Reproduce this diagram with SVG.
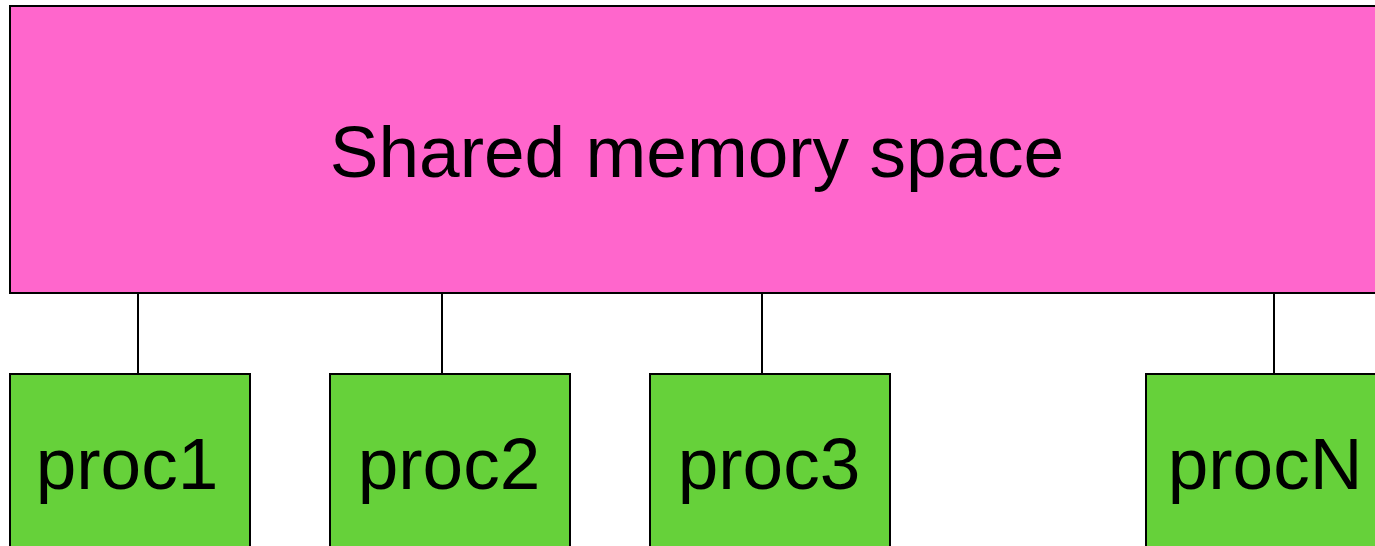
<svg xmlns="http://www.w3.org/2000/svg" width="1375" height="546" viewBox="0 0 1375 546">
  <style>
    .mem { fill: #ff66cc; stroke: #000; stroke-width: 2; }
    .proc { fill: #66d13a; stroke: #000; stroke-width: 2; }
    .link { stroke: #000; stroke-width: 2; fill: none; }
    .label { font-family: "Liberation Sans", Arial, sans-serif; font-size: 73px; fill: #000; text-anchor: middle; }
  </style>
  <rect width="1375" height="546" fill="#fff"/>

  <!-- bus links between memory and processors -->
  <g id="connectors">
    <line class="link" x1="138" y1="293" x2="138" y2="374"/>
    <line class="link" x1="442" y1="293" x2="442" y2="374"/>
    <line class="link" x1="762" y1="293" x2="762" y2="374"/>
    <line class="link" x1="1274" y1="293" x2="1274" y2="374"/>
  </g>

  <g id="memory">
    <rect class="mem" x="10" y="6" width="1376" height="287"/>
    <text class="label" x="697" y="177">Shared memory space</text>
  </g>

  <g id="proc1">
    <rect class="proc" x="10" y="374" width="240" height="240"/>
    <text class="label" x="127" y="489">proc1</text>
  </g>
  <g id="proc2">
    <rect class="proc" x="330" y="374" width="240" height="240"/>
    <text class="label" x="449" y="489">proc2</text>
  </g>
  <g id="proc3">
    <rect class="proc" x="650" y="374" width="240" height="240"/>
    <text class="label" x="769" y="489">proc3</text>
  </g>
  <g id="procN">
    <rect class="proc" x="1146" y="374" width="240" height="240"/>
    <text class="label" x="1265" y="489">procN</text>
  </g>
</svg>
